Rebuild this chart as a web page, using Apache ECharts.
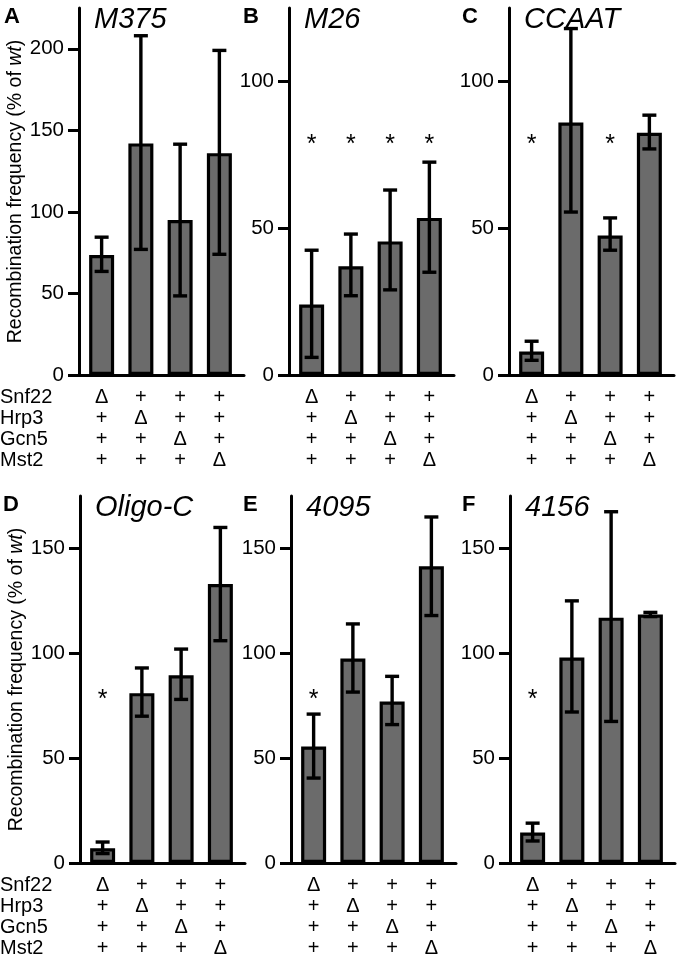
<!DOCTYPE html>
<html>
<head>
<meta charset="utf-8">
<style>
  html, body { margin: 0; padding: 0; background: #fff; }
  #chart { width: 677px; height: 964px; }
</style>
<script src="https://cdn.jsdelivr.net/npm/echarts@6/dist/echarts.min.js"></script>
</head>
<body>
<div id="chart"></div>
<script>
// ---------- data ----------
const categories = ['snf22Δ', 'hrp3Δ', 'gcn5Δ', 'mst2Δ'];
const genes = ['Snf22', 'Hrp3', 'Gcn5', 'Mst2'];
// genotype table: rows = genes, columns = strains
const genoSnf22 = ['Δ', '+', '+', '+'];
const genoHrp3  = ['+', 'Δ', '+', '+'];
const genoGcn5  = ['+', '+', 'Δ', '+'];
const genoMst2  = ['+', '+', '+', 'Δ'];

const ticksTop = [0, 50, 100, 150, 200];
const ticksMid = [0, 50, 100];
const ticksBot = [0, 50, 100, 150];

// A  M375
const meanA = [73.5, 142, 95, 136];
const lowA  = [63.5, 77, 48.5, 74];
const highA = [84.5, 208, 141.5, 199];
const starA = [0, 0, 0, 0];
// B  M26
const meanB = [24, 37, 45.5, 53.5];
const lowB  = [6, 27, 29, 35];
const highB = [42.5, 48, 63, 72.5];
const starB = [1, 1, 1, 1];
// C  CCAAT
const meanC = [8, 86, 47.5, 82.5];
const lowC  = [5, 55.5, 42.5, 77];
const highC = [11.5, 118, 53.5, 88.5];
const starC = [1, 0, 1, 0];
// D  Oligo-C
const meanD = [7, 81, 89.5, 133];
const lowD  = [4.5, 70, 78, 106];
const highD = [10, 93, 102, 160];
const starD = [1, 0, 0, 0];
// E  4095
const meanE = [55.5, 97.5, 77, 141.5];
const lowE  = [40.5, 81.5, 66, 118];
const highE = [71, 114, 89, 165];
const starE = [1, 0, 0, 0];
// F  4156
const meanF = [14.5, 98, 117, 118.5];
const lowF  = [10.5, 72, 67.5, 117.5];
const highF = [19, 125, 167.5, 119.5];
const starF = [1, 0, 0, 0];

const starLevel = 80;

// ---------- layout ----------
const FONT = "'Liberation Sans', Arial, Helvetica, sans-serif";
const panels = [
  { letter: 'A', title: 'M375',    mean: meanA, low: lowA, high: highA, star: starA, max: 225, ticks: ticksTop, ax: 79,  top: 8,   bottom: 375, lx: 4,   yname: true },
  { letter: 'B', title: 'M26',     mean: meanB, low: lowB, high: highB, star: starB, max: 125, ticks: ticksMid, ax: 289, top: 8,   bottom: 375, lx: 243 },
  { letter: 'C', title: 'CCAAT',   mean: meanC, low: lowC, high: highC, star: starC, max: 125, ticks: ticksMid, ax: 509, top: 8,   bottom: 375, lx: 462 },
  { letter: 'D', title: 'Oligo-C', mean: meanD, low: lowD, high: highD, star: starD, max: 175, ticks: ticksBot, ax: 80,  top: 496, bottom: 863, lx: 3,   yname: true },
  { letter: 'E', title: '4095',    mean: meanE, low: lowE, high: highE, star: starE, max: 175, ticks: ticksBot, ax: 291, top: 496, bottom: 863, lx: 243 },
  { letter: 'F', title: '4156',    mean: meanF, low: lowF, high: highF, star: starF, max: 175, ticks: ticksBot, ax: 510, top: 496, bottom: 863, lx: 462 }
];
const genoTable = [genoSnf22, genoHrp3, genoGcn5, genoMst2];

const grid = [], xAxis = [], yAxis = [], series = [], graphic = [];

panels.forEach((p, i) => {
  const fi = 2 * i, di = 2 * i + 1;
  const height = p.bottom - p.top;
  // frame grid (axes lines)
  grid.push({ left: p.ax, top: p.top, width: 165, height: height, containLabel: false });
  // data grid
  grid.push({ left: p.ax + 3, top: p.top, width: 157, height: height, containLabel: false });

  xAxis.push({
    gridIndex: fi, type: 'value', min: 0, max: 1,
    axisLine: { show: true, onZero: false, lineStyle: { color: '#000', width: 3 } },
    axisTick: { show: false }, axisLabel: { show: false }, splitLine: { show: false }
  });
  xAxis.push({
    gridIndex: di, type: 'category', data: categories,
    axisLine: { show: false }, axisTick: { show: false }, splitLine: { show: false },
    axisLabel: {
      interval: 0, margin: 12, color: '#000', fontSize: 20, lineHeight: 21, fontFamily: FONT,
      formatter: (v, idx) => genoTable.map(r => r[idx]).join('\n')
    }
  });

  const yFrame = {
    gridIndex: fi, type: 'value', min: 0, max: p.max,
    axisLine: { show: true, lineStyle: { color: '#000', width: 3 } },
    axisTick: { show: true, length: 11, lineStyle: { color: '#000', width: 3 }, customValues: p.ticks },
    axisLabel: { color: '#000', fontSize: 20.5, fontFamily: FONT, margin: 15, customValues: p.ticks },
    splitLine: { show: false }
  };
  if (p.yname) {
    Object.assign(yFrame, {
      name: '{n|Recombination frequency (% of }{i|wt}{n|)}',
      nameLocation: 'middle', nameRotate: 90, nameGap: 51,
      nameTextStyle: {
        rich: {
          n: { fontSize: 19.5, fontFamily: FONT, color: '#000' },
          i: { fontSize: 19.5, fontFamily: FONT, color: '#000', fontStyle: 'italic' }
        }
      }
    });
  }
  yAxis.push(yFrame);
  yAxis.push({ gridIndex: di, type: 'value', min: 0, max: p.max, show: false });

  series.push({
    type: 'bar', xAxisIndex: di, yAxisIndex: di, data: p.mean, barWidth: 25,
    itemStyle: { color: '#6b6b6b', borderColor: '#000', borderWidth: 3.2 },
    emphasis: { disabled: true }, z: 2
  });
  series.push({
    type: 'custom', xAxisIndex: di, yAxisIndex: di, z: 5,
    data: categories.map((c, k) => [k, p.low[k], p.high[k]]),
    renderItem: (params, api) => {
      const lo = api.coord([api.value(0), api.value(1)]);
      const hi = api.coord([api.value(0), api.value(2)]);
      const hw = 7, st = { stroke: '#000', lineWidth: 3.4 };
      return {
        type: 'group', children: [
          { type: 'line', shape: { x1: lo[0], y1: lo[1], x2: hi[0], y2: hi[1] }, style: st },
          { type: 'line', shape: { x1: lo[0] - hw, y1: lo[1], x2: lo[0] + hw, y2: lo[1] }, style: st },
          { type: 'line', shape: { x1: hi[0] - hw, y1: hi[1], x2: hi[0] + hw, y2: hi[1] }, style: st }
        ]
      };
    }
  });
  series.push({
    type: 'custom', xAxisIndex: di, yAxisIndex: di, z: 6,
    data: categories.map((c, k) => [k, starLevel, p.star[k]]).filter(d => d[2]),
    renderItem: (params, api) => {
      const pt = api.coord([api.value(0), api.value(1)]);
      return {
        type: 'text',
        style: { text: '*', x: pt[0], y: pt[1] + 5, align: 'center', verticalAlign: 'middle',
                 fontSize: 25, fontFamily: FONT, fill: '#000' }
      };
    }
  });

  // panel letter
  graphic.push({
    type: 'text', left: p.lx, top: p.top - 2,
    style: { text: p.letter, fontSize: 22, fontWeight: 'bold', fontFamily: FONT, fill: '#000' }
  });
  // title
  graphic.push({
    type: 'text', left: p.ax + 15, top: p.top - 3,
    style: { text: p.title, fontSize: 29, fontStyle: 'italic', fontFamily: FONT, fill: '#000' }
  });
});

// row labels
[375, 863].forEach(b => {
  graphic.push({
    type: 'text', left: 0, top: b + 12,
    style: { text: genes.join('\n'), fontSize: 20, lineHeight: 21, fontFamily: FONT, fill: '#000' }
  });
});

const chart = echarts.init(document.getElementById('chart'), null, { renderer: 'canvas' });
chart.setOption({
  animation: false,
  backgroundColor: '#fff',
  grid, xAxis, yAxis, series, graphic
});
</script>
</body>
</html>
